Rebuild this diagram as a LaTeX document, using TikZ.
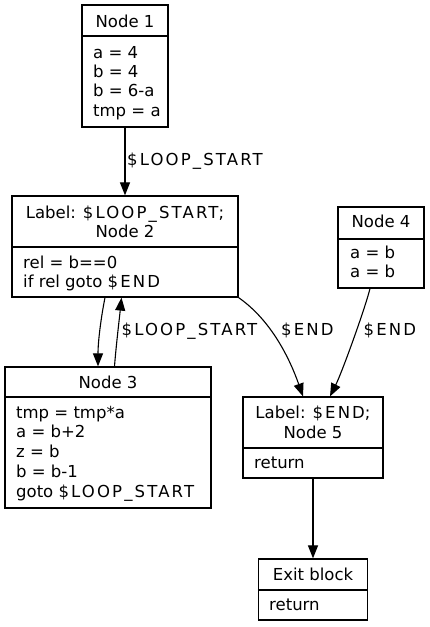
\documentclass[tikz,border=0pt]{standalone}
\usepackage{fontspec}
\setmainfont{DejaVu Sans}
\newfontfamily\capsfont[LetterSpace=13]{DejaVu Sans}
\usetikzlibrary{arrows.meta}
\newcommand{\LS}{{\capsfont\$LOOP\_START}}
\newcommand{\EN}{{\capsfont\$END}}
\tikzset{
  blk/.style={draw, line width=1.2pt, fill=white, rectangle, inner sep=0pt},
  hd/.style={anchor=base, inner sep=0pt},
  bd/.style={anchor=base west, inner sep=0pt},
  lb/.style={anchor=base west, inner sep=0pt},
  edge/.style={line width=1.1pt, -{Triangle[length=13pt,width=10pt]}},
  divider/.style={line width=1.2pt},
}
\begin{document}
\begin{tikzpicture}[x=1pt,y=-1pt,font=\fontsize{16.5}{19.5}\selectfont]
\fill[white] (0,0) rectangle (430,627);
\useasboundingbox (0,0) rectangle (430,627);

% boxes
\node[blk, minimum width=86pt, minimum height=122pt] (n1) at (125,66) {};
\node[blk, minimum width=226pt, minimum height=101pt] (n2) at (125,246.5) {};
\node[blk, minimum width=86pt, minimum height=81pt] (n4) at (381,247.5) {};
\node[blk, minimum width=206pt, minimum height=141pt] (n3) at (108,437.5) {};
\node[blk, minimum width=140pt, minimum height=81pt] (n5) at (313,437.5) {};
\node[blk, minimum width=109pt, minimum height=61pt] (ex) at (313,589.5) {};

% dividers
\draw[divider] (n1.west |- 0,36) -- (n1.east |- 0,36);
\draw[divider] (n2.west |- 0,247) -- (n2.east |- 0,247);
\draw[divider] (n4.west |- 0,239) -- (n4.east |- 0,239);
\draw[divider] (n3.west |- 0,397) -- (n3.east |- 0,397);
\draw[divider] (n5.west |- 0,448) -- (n5.east |- 0,448);
\draw[divider] (ex.west |- 0,590) -- (ex.east |- 0,590);

% headers
\node[hd] (n1h) at (125,27) {Node 1};
\node[hd] (n2h1) at (125,218) {Label: \LS;};
\node[hd] (n2h2) at (125,237.5) {Node 2};
\node[hd] (n4h) at (381,227) {Node 4};
\node[hd] (n3h) at (108,388) {Node 3};
\node[hd] (n5h1) at (313,418) {Label: \EN;};
\node[hd] (n5h2) at (313,438) {Node 5};
\node[hd] (exh) at (313,580) {Exit block};

% bodies
\foreach \t [count=\i from 0] in {a = 4, b = 4, b = 6-a, tmp = a}
  \node[bd] (n1b\i) at (93,{58+19.4*\i}) {\t};
\foreach \t [count=\i from 0] in {rel = b==0, if rel goto \EN}
  \node[bd] (n2b\i) at (23,{268+19.8*\i}) {\t};
\foreach \t [count=\i from 0] in {a = b, a = b}
  \node[bd] (n4b\i) at (350,{258+19.5*\i}) {\t};
\foreach \t [count=\i from 0] in {tmp = tmp*a, a = b+2, z = b, b = b-1, goto \LS}
  \node[bd] (n3b\i) at (16,{418+19.8*\i}) {\t};
\node[bd] (n5b0) at (254,468) {return};
\node[bd] (exb0) at (269,610) {return};

% edges
\draw[edge] (n1) -- (n2);
\draw[edge] ([xshift=-20pt]n2.south) .. controls +(-4,20) and +(0,-25) .. ([xshift=-10pt]n3.north);
\draw[edge] ([xshift=6.5pt]n3.north) .. controls +(1.5,-20) and +(-2,20) .. ([xshift=-3.5pt]n2.south);
\draw[edge] (n2.south east) .. controls +(33,23) and +(-13,-37) .. ([xshift=-10pt]n5.north);
\draw[edge] ([xshift=-11pt]n4.south) .. controls +(-5,20) and +(12,-24) .. ([xshift=17pt]n5.north);
\draw[edge] (n5) -- (ex);

% edge labels
\node[lb] (l1) at (127,165.5) {\LS};
\node[lb] (l2) at (121.5,335) {\LS};
\node[lb] (l3) at (281,335) {\EN};
\node[lb] (l4) at (363.5,335) {\EN};
\end{tikzpicture}
\end{document}
